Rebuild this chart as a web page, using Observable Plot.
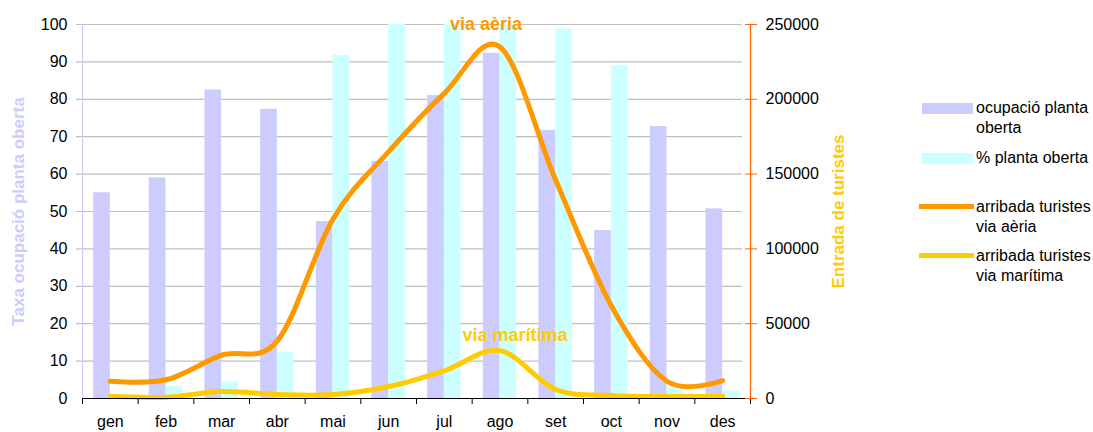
<!DOCTYPE html>
<html>
<head>
<meta charset="utf-8">
<script src="https://cdn.jsdelivr.net/npm/d3@7"></script>
<script src="https://cdn.jsdelivr.net/npm/@observablehq/plot@0.6"></script>
<style>
  body { margin: 0; background: #fff; font-family: "Liberation Sans", Arial, sans-serif; }
  #wrap { position: relative; width: 1093px; height: 432px; }
  #legend { position: absolute; left: 0; top: 0; font-size: 16px; color: #000; }
  .item { position: absolute; left: 918px; width: 175px; }
  .sw { position: absolute; }
  .lt { position: absolute; left: 58px; line-height: 20px; white-space: nowrap; }
</style>
</head>
<body>
<div id="wrap"><div id="legend"></div></div>
<script>
const months = ["gen","feb","mar","abr","mai","jun","jul","ago","set","oct","nov","des"];
const ocupacio = [55, 59, 82.5, 77.3, 47.3, 63.4, 81, 92.3, 71.7, 44.9, 72.7, 50.7];
const plantaOberta = [0, 3.2, 4.4, 12.4, 91.7, 100, 100, 100, 98.8, 89, 3, 2];
const viaAeria = [11500, 12500, 29000, 38500, 120000, 165000, 204000, 235000, 146000, 62000, 11500, 12000];
const viaMaritima = [1500, 900, 4700, 2700, 2600, 8000, 18500, 32000, 6000, 2000, 1300, 1500];
const leftTicks = [0,10,20,30,40,50,60,70,80,90,100];
const rightTicks = [0,50000,100000,150000,200000,250000];
const rightMax = 250000;
const leftMax = 100;

const seriesNames = ["ocupació planta oberta", "% planta oberta", "arribada turistes via aèria", "arribada turistes via marítima"];
const colors = ["#ccccff", "#ccffff", "#ff9900", "#ffcc00"];

const ratio = rightMax / leftMax;
const data = months.map((m, i) => ({
  month: m, ocupacio: ocupacio[i], oberta: plantaOberta[i],
  aeria: viaAeria[i] / ratio, maritima: viaMaritima[i] / ratio
}));

const W = 1093, H = 432;
const mL = 82, mR = 343, mT = 24, mB = 34;
const pIn = 0.4, pOut = 0.2;
const step = (W - mL - mR) / (months.length - pIn + 2 * pOut);
const bw = step * (1 - pIn);

const chart = Plot.plot({
  width: W, height: H,
  marginLeft: mL, marginRight: mR, marginTop: mT, marginBottom: mB,
  style: { fontFamily: "Liberation Sans, Arial, sans-serif", fontSize: "16px", background: "#fff", color: "#000", overflow: "visible" },
  x: { type: "band", domain: months, paddingInner: pIn, paddingOuter: pOut, round: false },
  y: { domain: [0, leftMax] },
  marks: [
    Plot.ruleY(leftTicks.slice(1), { stroke: "#c0c0c0", strokeWidth: 1.2, insetLeft: -6, insetRight: 8 }),
    Plot.barY(data, { x: "month", y: "ocupacio", fill: colors[0], insetRight: bw / 2 }),
    Plot.barY(data, { x: "month", y: "oberta", fill: colors[1], insetLeft: bw / 2 }),
    Plot.lineY(data, { x: "month", y: "maritima", stroke: colors[3], strokeWidth: 5, curve: "cardinal", tension: 0 }),
    Plot.lineY(data, { x: "month", y: "aeria", stroke: colors[2], strokeWidth: 5, curve: "cardinal", tension: 0 }),
    Plot.ruleY([0], { stroke: "#000", strokeWidth: 1.2 }),
    Plot.frame({ anchor: "left", stroke: "#ccccff", strokeWidth: 1.2 }),
    Plot.frame({ anchor: "right", stroke: "#ff6600", strokeWidth: 1.2 }),
    Plot.axisX({ tickSize: 0, tickPadding: 17, label: null, fill: "#000", fontSize: 16 }),
    Plot.axisX({ tickSize: 6, dx: -step / 2, tickFormat: () => "", label: null, stroke: "#000" }),
    Plot.axisX({ ticks: ["des"], tickSize: 6, dx: step / 2, tickFormat: () => "", label: null, stroke: "#000" }),
    Plot.axisY({ anchor: "left", ticks: leftTicks, tickSize: 0, tickPadding: 15, label: null, fill: "#000", fontSize: 16 }),
    Plot.axisY({ anchor: "right", ticks: rightTicks.map(d => d / ratio), tickFormat: d => String(Math.round(d * ratio)), tickSize: 12, dx: -6, tickPadding: 9, label: null, stroke: "#ff6600", fill: "#000", fontSize: 16 }),
    Plot.text(["Taxa ocupació planta oberta"], { frameAnchor: "left", textAnchor: "middle", rotate: -90, dx: -64, fill: "#ccccff", fontWeight: "bold", fontSize: 17, letterSpacing: "0.4px" }),
    Plot.text(["Entrada de turistes"], { frameAnchor: "right", textAnchor: "middle", rotate: -90, dx: 88, fill: "#ffcc00", fontWeight: "bold", fontSize: 17 }),
    Plot.text(["via aèria"], { x: ["ago"], y: [leftMax], dx: -14, fill: "#ff9900", fontWeight: "bold", fontSize: 18 }),
    Plot.text(["via marítima"], { x: ["ago"], y: [17], dx: 15, fill: "#ffcc00", fontWeight: "bold", fontSize: 18 })
  ]
});
document.getElementById("wrap").prepend(chart);

// legend
const legend = document.getElementById("legend");
const items = [
  { top: 98, kind: "rect", lines: ["ocupació planta", "oberta"] },
  { top: 148, kind: "rect", lines: ["% planta oberta"] },
  { top: 197, kind: "line", lines: ["arribada turistes", "via aèria"] },
  { top: 246, kind: "line", lines: ["arribada turistes", "via marítima"] }
];
items.forEach((it, i) => {
  const d = document.createElement("div");
  d.className = "item";
  d.style.top = it.top + "px";
  const sw = document.createElement("div");
  sw.className = "sw";
  if (it.kind === "rect") {
    sw.style.left = "4px"; sw.style.top = "5px"; sw.style.width = "51px"; sw.style.height = "11px";
  } else {
    sw.style.left = "1px"; sw.style.top = "7px"; sw.style.width = "55px"; sw.style.height = "5px";
  }
  sw.style.background = colors[i];
  d.appendChild(sw);
  const t = document.createElement("div");
  t.className = "lt";
  t.style.top = "0px";
  t.innerHTML = it.lines.join("<br>");
  d.appendChild(t);
  legend.appendChild(d);
});
</script>
</body>
</html>
